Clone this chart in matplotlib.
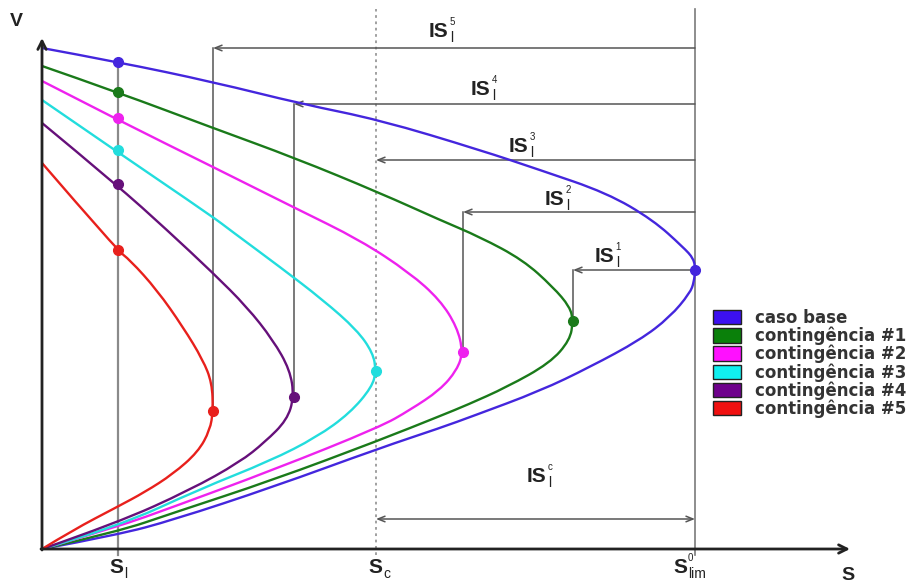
import matplotlib
matplotlib.use("Agg")
import matplotlib.pyplot as plt
from matplotlib.patches import Patch, PathPatch
from matplotlib.path import Path

# curvas PV (S, V): ramo inferior -> nariz -> ramo superior
s_base = [0, 75, 131, 231, 338, 398, 431, 498, 548, 598, 628, 648, 652, 653, 652, 641, 611, 565, 498, 438, 338, 260, 171, 76, 0]
v_base = [0, 14, 29, 62, 101, 121, 133, 158, 182, 209, 232, 256, 267, 279, 290, 302, 329, 356, 379, 399, 429, 445, 467, 487, 501]

s_c1 = [0, 75, 131, 231, 338, 398, 425, 465, 508, 528, 531, 528, 511, 481, 438, 398, 338, 253, 171, 75, 0]
v_c1 = [0, 17, 36, 69, 109, 133, 144, 162, 186, 209, 228, 242, 262, 289, 312, 329, 356, 391, 421, 457, 483]

s_c2 = [0, 75, 131, 231, 338, 368, 398, 415, 421, 415, 398, 368, 318, 253, 171, 74, 0]
v_c2 = [0, 22, 42, 79, 122, 139, 159, 179, 197, 222, 249, 276, 309, 341, 382, 430, 468]

s_c3 = [0, 75, 158, 228, 275, 308, 330, 334, 331, 315, 281, 238, 188, 171, 74, 0]
v_c3 = [0, 22, 60, 88, 112, 136, 162, 178, 196, 219, 249, 282, 319, 332, 398, 449]

s_c4 = [0, 75, 148, 198, 223, 245, 252, 248, 231, 205, 171, 125, 75, 0]
v_c4 = [0, 26, 59, 87, 107, 129, 152, 179, 209, 242, 276, 319, 364, 426]

s_c5 = [0, 31, 75, 103, 131, 156, 168, 171, 170, 161, 141, 115, 88, 75, 0]
v_c5 = [0, 19, 42, 57, 75, 97, 119, 138, 166, 189, 222, 259, 289, 299, 386]

curves_s = [s_base, s_c1, s_c2, s_c3, s_c4, s_c5]
curves_v = [v_base, v_c1, v_c2, v_c3, v_c4, v_c5]
labels = ['caso base', 'contingência #1', 'contingência #2', 'contingência #3',
          'contingência #4', 'contingência #5']
colors = ['#4426dd', '#1a7a1a', '#ee22ee', '#22dddd', '#66107a', '#e8201c']
legend_colors = ['#3c10f0', '#0a800a', '#ff10ff', '#10f0f0', '#6e008c', '#f01010']

# pontos marcados
s_l = 76
s_c = 334
s_lim0 = 653
v_at_sl = [487, 457, 431, 399, 365, 299]
s_nose = [653, 531, 421, 334, 252, 171]
v_nose = [279, 228, 197, 178, 152, 138]

# índices de segurança IS^k: altura da seta, alvo, posição do rótulo
is_names = ['5', '4', '3', '2', '1']
is_level = [501, 445, 389, 337, 279]
is_target = [171, 252, 334, 421, 531]
is_nose_v = [138, 152, 178, 197, 228]
is_label_xy = [(387, 512), (429, 454), (467, 397), (503, 344), (553, 287)]
isc_level = 30
isc_label_xy = (485, 67)

fig = plt.figure(figsize=(9.13, 5.88), dpi=100)
ax = fig.add_axes([0, 0, 1, 1])
ax.set_xlim(-42, 871)
ax.set_ylim(-39, 549)
ax.axis('off')

txt_color = '#222222'
font = 'Liberation Sans'


def indexed(x, y, base, sub, sup=None, size=15):
    # texto principal + subscrito + sobrescrito pequenos
    t = ax.text(x, y, base, fontsize=size, fontweight='bold', family=font,
                ha='left', va='baseline', color=txt_color)
    w = 0.945 * size * 100 / 72 if base == 'IS' else 0.667 * size * 100 / 72
    ax.annotate(sub, xy=(x, y), xytext=(w + 1, -5), textcoords='offset pixels',
                fontsize=10, family=font, ha='left', va='baseline', color=txt_color)
    if sup is not None:
        ax.annotate(sup, xy=(x, y), xytext=(w + 1, 12), textcoords='offset pixels',
                    fontsize=7, family=font, ha='left', va='baseline', color=txt_color)
    return t


def smooth_path(s, v):
    # curva suave (Bezier quadrática) guiada pelos pontos lidos
    pts = list(zip(s, v))
    verts = [pts[0]]
    codes = [Path.MOVETO]
    for i in range(1, len(pts) - 1):
        if i < len(pts) - 2:
            end = ((pts[i][0] + pts[i + 1][0]) / 2, (pts[i][1] + pts[i + 1][1]) / 2)
        else:
            end = pts[i + 1]
        verts += [pts[i], end]
        codes += [Path.CURVE3, Path.CURVE3]
    return Path(verts, codes)


gray = '#7a7a7a'
# linhas verticais de referência
ax.plot([s_l, s_l], [-6, v_at_sl[0]], color='#8a8a8a', lw=1.6, zorder=1)
ax.plot([s_c, s_c], [-6, 540], color='#999999', lw=1.3, ls=(0, (1.5, 2)), zorder=1)
ax.plot([s_lim0, s_lim0], [-6, 540], color=gray, lw=1.2, zorder=1)

# setas horizontais IS
arrow_kw = dict(arrowstyle='->,head_length=0.5,head_width=0.2', color='#555555', lw=1.1,
                shrinkA=0, shrinkB=0)
for name, lev, tgt, vn, (lx, ly) in zip(is_names, is_level, is_target, is_nose_v, is_label_xy):
    ax.annotate('', xy=(tgt, lev), xytext=(s_lim0, lev), arrowprops=arrow_kw, zorder=2)
    if tgt != s_c:
        ax.plot([tgt, tgt], [vn, lev], color='#555555', lw=1.1, zorder=1)
    indexed(lx, ly, 'IS', 'l', name)

ax.annotate('', xy=(s_c, isc_level), xytext=(s_lim0, isc_level),
            arrowprops=dict(arrowstyle='<->,head_length=0.5,head_width=0.2', color='#555555',
                            lw=1.1, shrinkA=0, shrinkB=0), zorder=2)
indexed(isc_label_xy[0], isc_label_xy[1], 'IS', 'l', 'c')

# curvas
for s, v, c in zip(curves_s, curves_v, colors):
    ax.add_patch(PathPatch(smooth_path(s, v), facecolor='none', edgecolor=c, lw=1.7,
                           zorder=3, joinstyle='round'))
for c, vl, sn, vn in zip(colors, v_at_sl, s_nose, v_nose):
    ax.plot([s_l], [vl], 'o', color=c, ms=7, zorder=4)
    ax.plot([sn], [vn], 'o', color=c, ms=7, zorder=4)

# eixos
ax.annotate('', xy=(808, 0), xytext=(-1, 0),
            arrowprops=dict(arrowstyle='->,head_length=0.6,head_width=0.3', color='#222222',
                            lw=2, shrinkA=0, shrinkB=0), zorder=5)
ax.annotate('', xy=(0, 511), xytext=(0, -1),
            arrowprops=dict(arrowstyle='->,head_length=0.6,head_width=0.3', color='#222222',
                            lw=2, shrinkA=0, shrinkB=0), zorder=5)
ax.text(-26, 527, 'V', fontsize=14, fontweight='bold', ha='center', va='center',
        family=font, color=txt_color)
ax.text(806, -27, 'S', fontsize=14, fontweight='bold', ha='center', va='center',
        family=font, color=txt_color)
indexed(s_l - 9, -24, 'S', 'l')
indexed(s_c - 8, -24, 'S', 'c')
indexed(s_lim0 - 22, -24, 'S', 'lim', '0')

handles = [Patch(facecolor=c, edgecolor='#222222', lw=1) for c in legend_colors]
leg = ax.legend(handles, labels, loc='upper left', bbox_to_anchor=(713 / 913, 1 - 309 / 588),
                frameon=False, borderpad=0, borderaxespad=0, handlelength=1.65,
                handleheight=0.95, handletextpad=0.85, labelspacing=-0.02,
                prop={'family': 'DejaVu Sans', 'weight': 'bold', 'size': 12})
for t in leg.get_texts():
    t.set_color('#333333')

fig.savefig('out.png', dpi=100)
